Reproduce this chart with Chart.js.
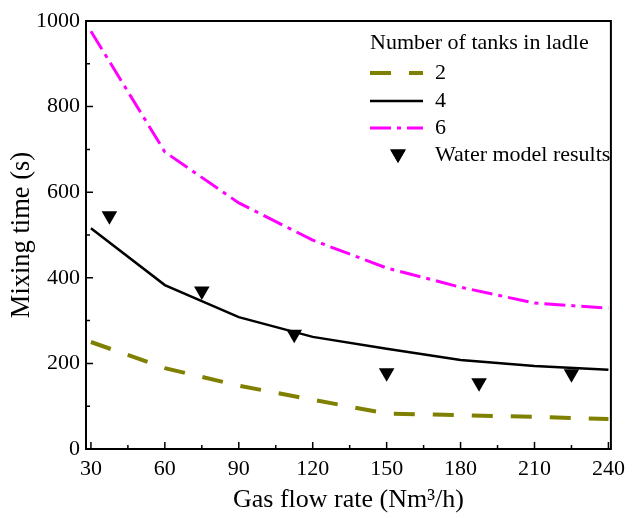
<!DOCTYPE html>
<html>
<head>
<meta charset="utf-8">
<script src="https://cdn.jsdelivr.net/npm/chart.js@4/dist/chart.umd.min.js"></script>
<style>
  html, body { margin: 0; padding: 0; background: #fff; }
  #wrap { width: 632px; height: 518px; }
</style>
</head>
<body>
<div id="wrap"><canvas id="c" width="632" height="518"></canvas></div>
<script>
// Gas flow rate (Nm3/h) for the simulated curves
const flowRates = [30, 60, 90, 120, 150, 180, 210, 240];
// Simulated mixing time (s) by number of tanks in the ladle
const tanks2 = [250, 189, 148, 115, 83, 79, 75, 70];
const tanks4 = [516, 383, 308, 262, 234, 208, 194, 185];
const tanks6 = [976, 694, 575, 488, 423, 378, 341, 329];
// Water model measurements
const waterFlow = [37.5, 75, 112.5, 150, 187.5, 225];
const waterTime = [545, 369, 268, 178, 155, 176];
// Axis ticks
const xTicks = [30, 60, 90, 120, 150, 180, 210, 240];
const yTicks = [0, 200, 400, 600, 800, 1000];

const FONT = "'Liberation Serif', 'Times New Roman', serif";

const toXY = (xs, ys) => xs.map((x, i) => ({ x: x, y: ys[i] }));

const legendEntries = [
  { label: '2', ds: 0 },
  { label: '4', ds: 1 },
  { label: '6', ds: 2 },
  { label: 'Water model results', ds: 3 }
];

// Frame, inward tick marks and the in-plot legend
const framePlugin = {
  id: 'frame',
  afterDraw(chart) {
    const ctx = chart.ctx;
    const a = chart.chartArea;
    const xs = chart.scales.x, ys = chart.scales.y;
    ctx.save();
    ctx.strokeStyle = '#000';
    ctx.lineWidth = 2;
    ctx.strokeRect(a.left, a.top, a.right - a.left, a.bottom - a.top);
    ctx.lineWidth = 1.5;
    ctx.beginPath();
    for (let v = 30; v <= 240; v += 15) {
      const px = xs.getPixelForValue(v);
      const len = (v % 30 === 0) ? 7 : 4;
      ctx.moveTo(px, a.bottom);
      ctx.lineTo(px, a.bottom - len);
    }
    for (let v = 0; v <= 1000; v += 100) {
      const py = ys.getPixelForValue(v);
      const len = (v % 200 === 0) ? 7 : 4;
      ctx.moveTo(a.left, py);
      ctx.lineTo(a.left + len, py);
    }
    ctx.stroke();

    // legend
    const lx = 370, sampleEnd = 423, textX = 435;
    ctx.fillStyle = '#000';
    ctx.font = '22px ' + FONT;
    ctx.textBaseline = 'middle';
    ctx.textAlign = 'left';
    ctx.fillText('Number of tanks in ladle', lx, 43);
    const rows = [73, 101, 128, 155];
    legendEntries.forEach((e, i) => {
      const ds = chart.data.datasets[e.ds];
      const y = rows[i];
      if (e.ds < 3) {
        ctx.save();
        ctx.strokeStyle = ds.borderColor;
        ctx.lineWidth = ds.borderWidth;
        ctx.setLineDash(ds.borderDash || []);
        ctx.lineCap = 'butt';
        ctx.beginPath();
        ctx.moveTo(lx, y);
        ctx.lineTo(sampleEnd, y);
        ctx.stroke();
        ctx.restore();
      } else {
        ctx.save();
        Chart.helpers.drawPoint(ctx, {
          pointStyle: 'triangle', rotation: 180, radius: ds.pointRadius, borderWidth: 0
        }, 398, y - 1);
        ctx.fill();
        ctx.restore();
      }
      ctx.fillStyle = '#000';
      ctx.fillText(e.label, textX, y);
    });
    ctx.restore();
  }
};

new Chart(document.getElementById('c'), {
  type: 'line',
  data: {
    datasets: [
      {
        label: '2', data: toXY(flowRates, tanks2),
        borderColor: 'rgb(128,128,0)', borderWidth: 4, borderDash: [21, 18],
        pointRadius: 0, tension: 0, fill: false
      },
      {
        label: '4', data: toXY(flowRates, tanks4),
        borderColor: '#000', borderWidth: 2.5,
        pointRadius: 0, tension: 0, fill: false
      },
      {
        label: '6', data: toXY(flowRates, tanks6),
        borderColor: '#ff00ff', borderWidth: 3, borderDash: [21, 6, 4, 6],
        pointRadius: 0, tension: 0, fill: false
      },
      {
        label: 'Water model results', data: toXY(waterFlow, waterTime),
        showLine: false, pointStyle: 'triangle', rotation: 180, pointRadius: 9,
        backgroundColor: '#000', borderColor: '#000', borderWidth: 0
      }
    ]
  },
  options: {
    responsive: false,
    animation: false,
    events: [],
    layout: { padding: { top: 21, right: 14, left: 0, bottom: 0 } },
    plugins: { legend: { display: false }, tooltip: { enabled: false } },
    scales: {
      x: {
        type: 'linear', min: 28, max: 241,
        afterFit: s => { s.height = 69; },
        afterBuildTicks: s => { s.ticks = xTicks.map(v => ({ value: v })); },
        grid: { display: false, drawTicks: false },
        border: { display: false },
        ticks: { color: '#000', font: { family: FONT, size: 22 }, padding: 7, maxRotation: 0, autoSkip: false,
                 callback: v => String(v) },
        title: { display: true, text: 'Gas flow rate (Nm\u00B3/h)', color: '#000',
                 font: { family: FONT, size: 26 }, padding: { top: 0, bottom: 2 } }
      },
      y: {
        type: 'linear', min: 0, max: 1000,
        afterFit: s => { s.width = 86; },
        afterBuildTicks: s => { s.ticks = yTicks.map(v => ({ value: v })); },
        grid: { display: false, drawTicks: false },
        border: { display: false },
        ticks: { color: '#000', font: { family: FONT, size: 22 }, padding: 6,
                 callback: v => String(v) },
        title: { display: true, text: 'Mixing time (s)', color: '#000',
                 font: { family: FONT, size: 26.5 }, padding: { top: 6, bottom: 0 } }
      }
    }
  },
  plugins: [framePlugin]
});
</script>
</body>
</html>
